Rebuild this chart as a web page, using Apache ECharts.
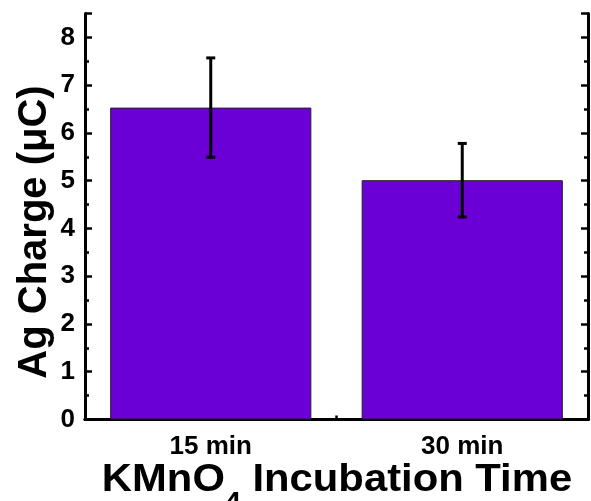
<!DOCTYPE html>
<html><head><meta charset="utf-8">
<script src="https://cdn.jsdelivr.net/npm/echarts@6/dist/echarts.min.js"></script>
<style>html,body{margin:0;padding:0;background:#fff;overflow:hidden}#c{width:591px;height:501px}</style>
</head><body><div id="c"></div>
<script>
const categories = ['15 min', '30 min'];
const values = [6.53, 5.01];
const errors = [1.04, 0.77];
const yTicks = [0, 1, 2, 3, 4, 5, 6, 7, 8];
const xTitle = 'KMnO{sub|4} Incubation Time';
const yTitle = 'Ag Charge (μC)';

const chart = echarts.init(document.getElementById('c'));
const font = 'Arial, "Liberation Sans", sans-serif';
const axisLine = {show: true, lineStyle: {color: '#000', width: 3}};
const yTickStyle = {width: 2.5, color: '#000'};
chart.setOption({
  animation: false,
  grid: {left: 85, right: 3, top: 13.5, bottom: 81.5, containLabel: false},
  xAxis: [{
    type: 'category', data: categories, position: 'bottom',
    axisLine: axisLine,
    axisTick: {show: true, inside: true, length: 6, alignWithLabel: true, lineStyle: {width: 2.5, color: '#000'}},
    axisLabel: {color: '#000', fontFamily: font, fontWeight: 'bold', fontSize: 26, margin: 14}
  }, {
    type: 'category', data: categories, position: 'top',
    axisLine: axisLine, axisTick: {show: false}, axisLabel: {show: false}
  }],
  yAxis: [{
    type: 'value', min: 0, max: 8.5, interval: 1,
    axisLine: axisLine,
    axisTick: {show: true, inside: true, length: 7, lineStyle: yTickStyle},
    minorTick: {show: true, splitNumber: 2, length: 4, lineStyle: yTickStyle},
    splitLine: {show: false},
    axisLabel: {color: '#000', fontFamily: font, fontWeight: 'bold', fontSize: 26, margin: 10,
      formatter: v => yTicks.includes(v) ? String(v) : ''}
  }, {
    type: 'value', min: 0, max: 8.5, interval: 1, position: 'right',
    axisLine: axisLine,
    axisTick: {show: true, inside: true, length: 7, lineStyle: yTickStyle},
    minorTick: {show: true, splitNumber: 2, length: 4, lineStyle: yTickStyle},
    splitLine: {show: false}, axisLabel: {show: false}
  }],
  graphic: [{
    type: 'text', x: 337, y: 481, scaleX: 1.1, scaleY: 1,
    style: {text: xTitle, fill: '#000', fontFamily: font, fontWeight: 'bold', fontSize: 38,
      align: 'center', verticalAlign: 'middle',
      rich: {sub: {fill: '#000', fontFamily: font, fontWeight: 'bold', fontSize: 26, padding: [44, 0, 0, 0]}}}
  }, {
    type: 'text', x: 35, y: 232, rotation: Math.PI / 2,
    style: {text: yTitle, fill: '#000', fontFamily: font, fontWeight: 'bold', fontSize: 40,
      align: 'center', verticalAlign: 'middle'}
  }],
  series: [{
    type: 'bar', data: values, barCategoryGap: '20%',
    itemStyle: {color: '#6a00d6', borderColor: '#222', borderWidth: 1}
  }, {
    type: 'custom', z: 10,
    data: values.map((v, i) => [i, v - errors[i], v + errors[i]]),
    renderItem: function (params, api) {
      const lo = api.coord([api.value(0), api.value(1)]);
      const hi = api.coord([api.value(0), api.value(2)]);
      const hw = 4.5;
      const st = {stroke: '#000', lineWidth: 3};
      const children = [
        {type: 'line', shape: {x1: lo[0], y1: lo[1], x2: hi[0], y2: hi[1]}, style: st},
        {type: 'line', shape: {x1: lo[0] - hw, y1: lo[1], x2: lo[0] + hw, y2: lo[1]}, style: st},
        {type: 'line', shape: {x1: hi[0] - hw, y1: hi[1], x2: hi[0] + hw, y2: hi[1]}, style: st}
      ];
      if (params.dataIndex < categories.length - 1) {
        const band = api.size([1, 0])[0];
        const base = api.coord([api.value(0), 0]);
        const bx = base[0] + band / 2;
        children.push({type: 'line', shape: {x1: bx, y1: base[1], x2: bx, y2: base[1] - 4}, style: {stroke: '#000', lineWidth: 2.5}});
      }
      return {type: 'group', children: children};
    }
  }]
});
</script></body></html>
